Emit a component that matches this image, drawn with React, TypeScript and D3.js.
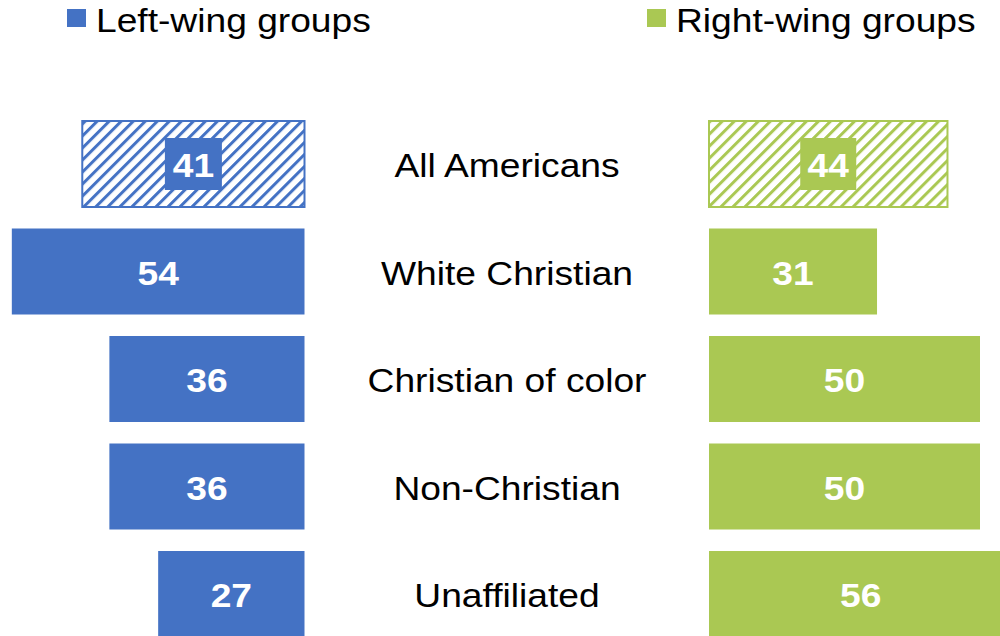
import React from "react";
import * as d3 from "d3";

const categories = ["All Americans", "White Christian", "Christian of color", "Non-Christian", "Unaffiliated"];
const leftValues = [41, 54, 36, 36, 27];
const rightValues = [44, 31, 50, 50, 56];
const hatched = [true, false, false, false, false];
const seriesNames = ["Left-wing groups", "Right-wing groups"];

const BLUE = "#4472C4";
const GREEN = "#AAC853";
const FONT = "'Liberation Sans', Arial, sans-serif";
const SX = 1.11;

export default function App() {
  const W = 1000, H = 636;
  const y = d3.scaleBand<string>().domain(categories).range([121, 637]).paddingInner(0.2).paddingOuter(0);
  const unit = 5.42;
  const xl = d3.scaleLinear().domain([0, 60]).range([304.5, 304.5 - 60 * unit]);
  const xr = d3.scaleLinear().domain([0, 60]).range([709, 709 + 60 * unit]);
  const bw = y.bandwidth();

  const stretchedText = (x: number, yy: number, txt: string, opts: any) => (
    <text
      transform={`translate(${x},${yy}) scale(${SX},1)`}
      fontFamily={FONT}
      {...opts}
    >
      {txt}
    </text>
  );

  return (
    <svg width={W} height={H} style={{ position: "absolute", left: 0, top: 0, background: "#fff" }}>
      <defs>
        <pattern id="hatchL" patternUnits="userSpaceOnUse" width={8.5} height={8.5} patternTransform="rotate(45)">
          <rect x={0} y={0} width={3} height={8.5} fill={BLUE} />
        </pattern>
        <pattern id="hatchR" patternUnits="userSpaceOnUse" width={8.5} height={8.5} patternTransform="rotate(45)">
          <rect x={0} y={0} width={3} height={8.5} fill={GREEN} />
        </pattern>
      </defs>

      {/* Legend */}
      <rect x={67} y={9} width={19} height={18} fill={BLUE} />
      {stretchedText(96, 31.5, seriesNames[0], { fontSize: 33.5, fill: "#000" })}
      <rect x={647} y={9} width={19} height={18} fill={GREEN} />
      {stretchedText(676, 31.5, seriesNames[1], { fontSize: 33.5, fill: "#000" })}

      {categories.map((c, i) => {
        const top = y(c)!;
        const cy = top + bw / 2;
        const lv = leftValues[i];
        const rv = rightValues[i];
        const lx0 = xl(lv), lx1 = xl(0);
        const rx0 = xr(0), rx1 = xr(rv);
        const lcx = (lx0 + lx1) / 2;
        const rcx = (rx0 + rx1) / 2;
        const base = cy + 13;
        const h = hatched[i];
        return (
          <g key={c}>
            {h ? (
              <>
                <rect x={lx0} y={top} width={lx1 - lx0} height={bw} fill="url(#hatchL)" stroke={BLUE} strokeWidth={2} />
                <rect x={lcx - 28.5} y={cy - 26} width={57} height={52} fill={BLUE} />
                <rect x={rx0} y={top} width={rx1 - rx0} height={bw} fill="url(#hatchR)" stroke={GREEN} strokeWidth={2} />
                <rect x={rcx - 28} y={cy - 26} width={56} height={52} fill={GREEN} />
              </>
            ) : (
              <>
                <rect x={lx0} y={top} width={lx1 - lx0} height={bw} fill={BLUE} />
                <rect x={rx0} y={top} width={rx1 - rx0} height={bw} fill={GREEN} />
              </>
            )}
            {stretchedText(lcx, base, String(lv), { fontSize: 33.5, fontWeight: "bold", fill: "#fff", textAnchor: "middle" })}
            {stretchedText(rcx, base, String(rv), { fontSize: 33.5, fontWeight: "bold", fill: "#fff", textAnchor: "middle" })}
            {stretchedText(507, base, c, { fontSize: 33.5, fill: "#000", textAnchor: "middle" })}
          </g>
        );
      })}
    </svg>
  );
}
